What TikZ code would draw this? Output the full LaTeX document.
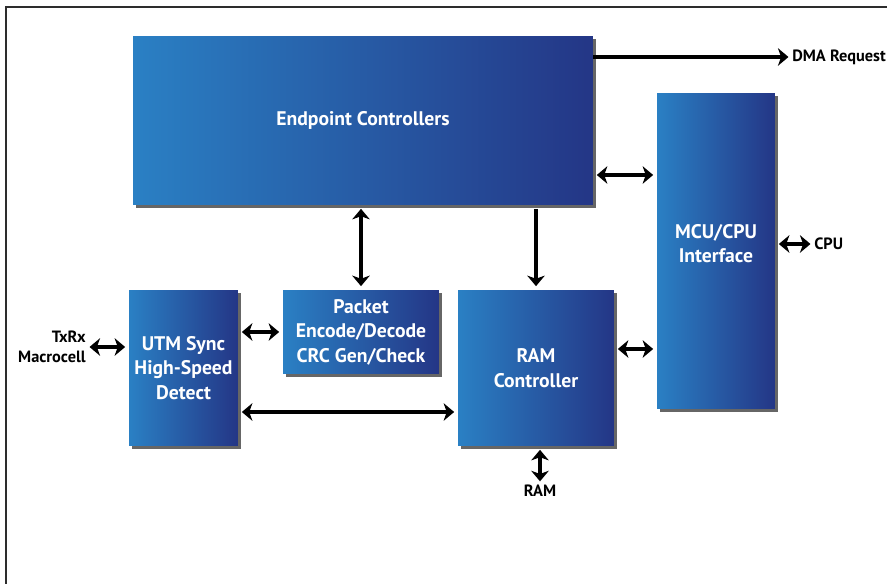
\documentclass[tikz,border=0pt]{standalone}
\usepackage{fontspec}
\setmainfont{PT Sans}
\usepackage{tikz}
\usetikzlibrary{calc,shapes,positioning,shadows}
\usetikzlibrary{arrows.meta}
\definecolor{blueL}{RGB}{42,128,196}
\definecolor{blueR}{RGB}{36,54,134}
\definecolor{frame}{RGB}{45,45,45}

\begin{document}
\begin{tikzpicture}[x=0.02cm,y=-0.02cm]
    \tikzstyle{bnode} = [rectangle, inner sep = 2pt, align=center, text=white, font=\fontsize{11.2}{13.9}\selectfont\bfseries,
                         left color=blueL, right color=blueR, shading angle=90,
                         drop shadow={shadow xshift=1.6pt, shadow yshift=-1.6pt, fill=black!75, opacity=0.8}]
    \tikzstyle{lnode} = [inner sep = 0pt, font=\fontsize{9.3}{11.3}\selectfont\bfseries]
    \tikzstyle{conn} = [line width=2.5pt, shorten >=2pt, shorten <=2pt]
    \tikzset{>={Stealth[length=6pt,width=10pt,inset=1.8pt]}}
    \useasboundingbox (0,0) rectangle (887,584);
    \draw[frame, line width=1.1pt] (887,7) -- (6,7) -- (6,584);
    \node[bnode, minimum width=9.2cm, minimum height=3.38cm] (ep) at (363,120.5) {Endpoint Controllers};
    \node[bnode, minimum width=2.36cm, minimum height=6.32cm] (mcu) at (716,251) {MCU/CPU\\Interface\\[-0.5em]};
    \node[bnode, minimum width=2.18cm, minimum height=3.12cm] (utm) at (183.5,368) {UTM Sync\\High-Speed\\Detect};
    \node[bnode, minimum width=3.12cm, minimum height=1.68cm] (pkt) at (361,332) {Packet\\Encode/Decode\\CRC Gen/Check};
    \node[bnode, minimum width=3.12cm, minimum height=3.12cm] (ram) at (536,368) {RAM\\Controller};
    \node[lnode, anchor=west] (dma) at (792,57) {DMA Request};
    \node[lnode, anchor=west] (cpu) at (814,244) {CPU};
    \node[lnode, anchor=east, align=right] (txrx) at (86,347) {TxRx\\Macrocell};
    \node[lnode] (ramio) at (540,491) {RAM};
    % \draw[conn,->] (ep.east) -- (dma.west);
    \draw[conn,->, shorten <=0pt] (ep.east |- dma.west) -- (dma.west);
    \draw[conn,<->] (ep.east |- 0,175) -- (mcu.west |- 0,175);
    \draw[conn,<->] (mcu.east |- cpu.west) -- (cpu.west);
    \draw[conn,<->] (pkt.north) -- (pkt.north |- ep.south);
    \draw[conn,->] (ram.north |- ep.south) -- (ram.north);
    \draw[conn,<->] (txrx.east) -- (txrx.east -| utm.west);
    \draw[conn,<->] (pkt.west) -- (pkt.west -| utm.east);
    \draw[conn,<->] (utm.east |- 0,412) -- (ram.west |- 0,412);
    \draw[conn,<->] (ram.east |- 0,349) -- (mcu.west |- 0,349);
    \draw[conn,<->] (ramio.north) -- (ramio.north |- ram.south);
  \end{tikzpicture}
\end{document}
